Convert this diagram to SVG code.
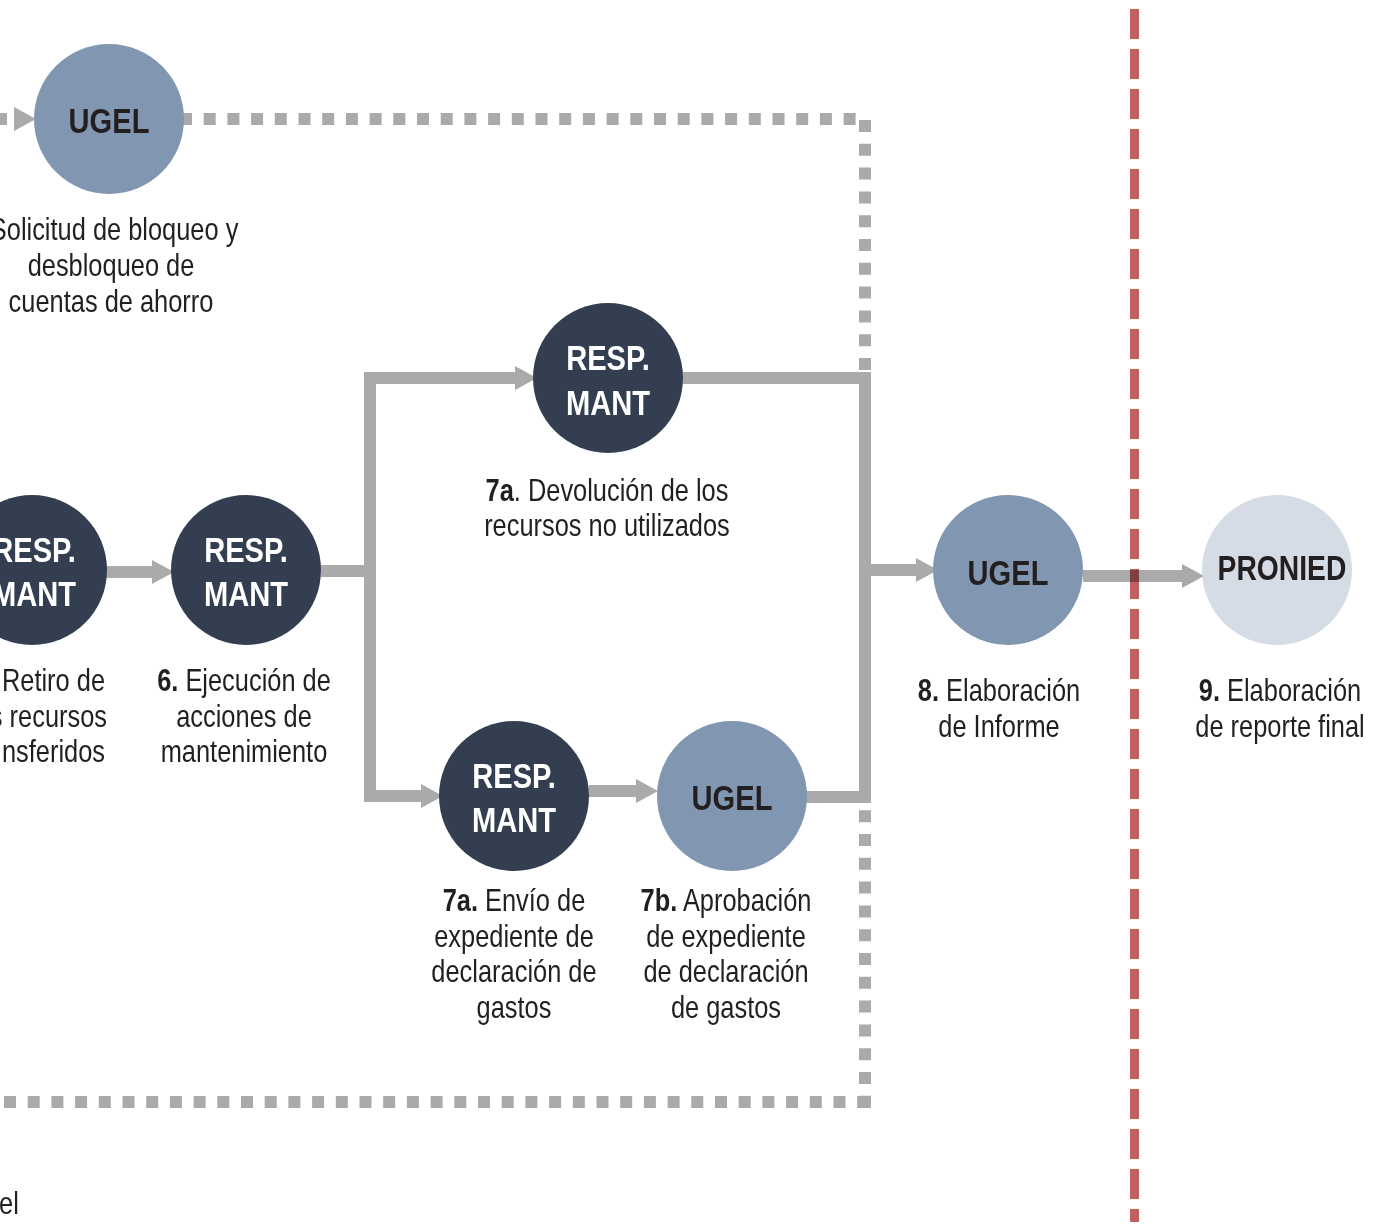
<svg xmlns="http://www.w3.org/2000/svg" width="1374" height="1225" viewBox="0 0 1374 1225">
  <defs>
    <style>
      .t { font-family: "Liberation Sans", Arial, sans-serif; fill: #231f20;
           transform-box: fill-box; transform-origin: center; transform: scaleX(0.82); }
      .lbl { font-size: 31px; text-anchor: middle; }
      .t.end { text-anchor: end; transform-origin: right center; }
      .t.start { text-anchor: start; transform-origin: left center; }
      .b { font-weight: bold; }
      .node { font-size: 35.5px; font-weight: bold; text-anchor: middle; }
      .w { fill: #ffffff; }
      .dark { fill: #333e51; }
      .mid { fill: #8196b0; }
      .light { fill: #d5dce6; }
      .dot { fill: none; stroke: #aaaaaa; stroke-width: 12; stroke-dasharray: 12 11.7; }
      .con { fill: none; stroke: #aaaaaa; stroke-width: 12; stroke-linejoin: miter; }
    </style>
    <marker id="head" viewBox="0 0 22 24" refX="0" refY="12" markerWidth="22" markerHeight="24" markerUnits="userSpaceOnUse" orient="auto">
      <path d="M0,0 L22,12 L0,24 Z" fill="#aaaaaa"/>
    </marker>
  </defs>

  <rect width="1374" height="1225" fill="#ffffff"/>

  <!-- dotted boundary of the process block -->
  <g id="boundary">
    <rect x="0" y="113" width="7" height="12" fill="#aaaaaa"/>
    <path class="dot" d="M180,119 H856"/>
    <path class="dot" d="M865,120 V1108" style="stroke-dasharray: 12 11.8"/>
    <path class="dot" d="M4,1102 H870"/>
  </g>

  <!-- connectors -->
  <g id="connectors">
    <path d="M14,107 L36,119 L14,131 Z" fill="#aaaaaa"/>
    <path class="con" d="M104,572 H152" marker-end="url(#head)"/>
    <path class="con" d="M321,571 H370"/>
    <path class="con" d="M370,571 V378 H515" marker-end="url(#head)"/>
    <path class="con" d="M370,571 V796 H421" marker-end="url(#head)"/>
    <path class="con" d="M589,791 H636" marker-end="url(#head)"/>
    <path class="con" d="M683,378 H865 V797 H805"/>
    <path class="con" d="M865,570 H916" marker-end="url(#head)"/>
    <path class="con" d="M1083,576 H1182" marker-end="url(#head)"/>
  </g>

  <!-- red dashed divider -->
  <path d="M1134.5,9 V1222" fill="none" stroke="#c1605f" stroke-width="9" stroke-dasharray="30 10" style="mix-blend-mode: multiply"/>

  <g id="n-ugel-top">
    <circle class="mid" cx="109" cy="119" r="75"/>
    <text class="t node" x="109" y="133">UGEL</text>
    <text class="t lbl" x="114" y="240">Solicitud de bloqueo y</text>
    <text class="t lbl" x="111" y="276">desbloqueo de</text>
    <text class="t lbl" x="111" y="312">cuentas de ahorro</text>
  </g>

  <g id="n-retiro">
    <circle class="dark" cx="32" cy="570" r="75"/>
    <text class="t node w" x="34" y="562">RESP.</text>
    <text class="t node w" x="34" y="606">MANT</text>
    <text class="t lbl end" x="105" y="691">Retiro de</text>
    <text class="t lbl end" x="107" y="727">s recursos</text>
    <text class="t lbl end" x="105" y="762">nsferidos</text>
  </g>

  <g id="n-ejecucion">
    <circle class="dark" cx="246" cy="570" r="75"/>
    <text class="t node w" x="246" y="562">RESP.</text>
    <text class="t node w" x="246" y="606">MANT</text>
    <text class="t lbl" x="244" y="691"><tspan class="b">6.</tspan> Ejecución de</text>
    <text class="t lbl" x="244" y="727">acciones de</text>
    <text class="t lbl" x="244" y="762">mantenimiento</text>
  </g>

  <g id="n-devolucion">
    <circle class="dark" cx="608" cy="378" r="75"/>
    <text class="t node w" x="608" y="370">RESP.</text>
    <text class="t node w" x="608" y="415">MANT</text>
    <text class="t lbl" x="607" y="501"><tspan class="b">7a</tspan>. Devolución de los</text>
    <text class="t lbl" x="607" y="536">recursos no utilizados</text>
  </g>

  <g id="n-envio">
    <circle class="dark" cx="514" cy="796" r="75"/>
    <text class="t node w" x="514" y="788">RESP.</text>
    <text class="t node w" x="514" y="832">MANT</text>
    <text class="t lbl" x="514" y="911"><tspan class="b">7a.</tspan> Envío de</text>
    <text class="t lbl" x="514" y="947">expediente de</text>
    <text class="t lbl" x="514" y="982">declaración de</text>
    <text class="t lbl" x="514" y="1018">gastos</text>
  </g>

  <g id="n-aprobacion">
    <circle class="mid" cx="732" cy="796" r="75"/>
    <text class="t node" x="732" y="810">UGEL</text>
    <text class="t lbl" x="726" y="911"><tspan class="b">7b.</tspan> Aprobación</text>
    <text class="t lbl" x="726" y="947">de expediente</text>
    <text class="t lbl" x="726" y="982">de declaración</text>
    <text class="t lbl" x="726" y="1018">de gastos</text>
  </g>

  <g id="n-informe">
    <circle class="mid" cx="1008" cy="570" r="75"/>
    <text class="t node" x="1008" y="585">UGEL</text>
    <text class="t lbl" x="999" y="701"><tspan class="b">8.</tspan> Elaboración</text>
    <text class="t lbl" x="999" y="737">de Informe</text>
  </g>

  <g id="n-reporte">
    <circle class="light" cx="1277" cy="570" r="75"/>
    <text class="t node" x="1282" y="580" style="font-size:34.5px">PRONIED</text>
    <text class="t lbl" x="1280" y="701"><tspan class="b">9.</tspan> Elaboración</text>
    <text class="t lbl" x="1280" y="737">de reporte final</text>
  </g>

  <text class="t start" x="-1" y="1214" style="font-size:31px">el</text>
</svg>
